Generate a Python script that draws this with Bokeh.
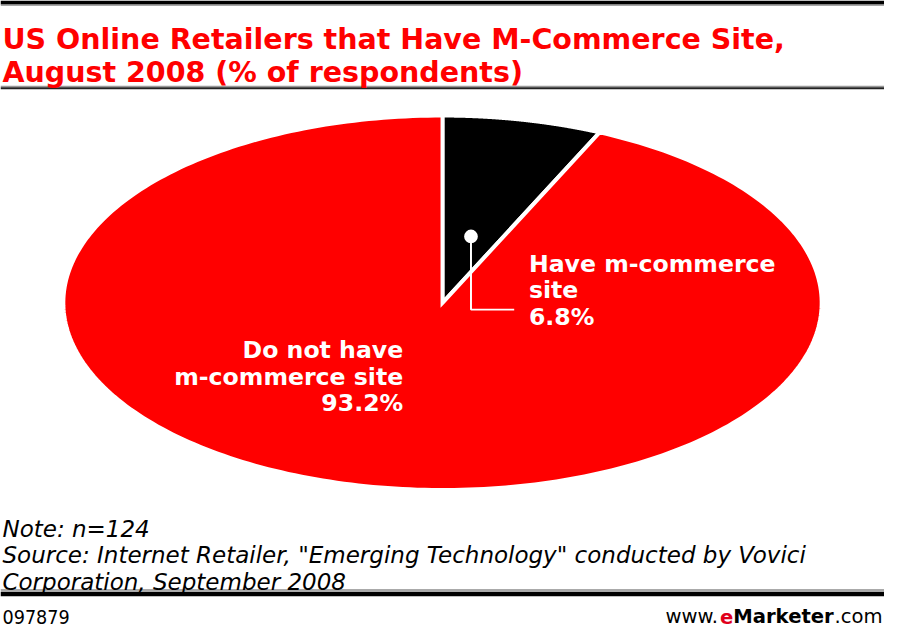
import numpy as np
from bokeh.plotting import figure
from bokeh.models import Range1d
from bokeh.embed import file_html
from bokeh.resources import INLINE
from bokeh.core.properties import value

# ---- data ----
categories = ["Have m-commerce site", "Do not have m-commerce site"]
shares = [6.8, 93.2]
colors = ["#000000", "#FF0000"]
title_lines = ["US Online Retailers that Have M-Commerce Site,",
               "August 2008 (% of respondents)"]
note_lines = ["Note: n=124",
              "Source: Internet Retailer, \"Emerging Technology\" conducted by Vovici",
              "Corporation, September 2008"]
chart_id = "097879"

W, H = 884, 628
S = W / 900.0


def fs(px):
    return f"{px * S:.1f}px"


p = figure(width=W, height=H, x_range=Range1d(0, 900), y_range=Range1d(644, 0),
           output_backend="svg", toolbar_location=None, min_border=0)
p.axis.visible = False
p.grid.visible = False
p.outline_line_color = None
p.background_fill_color = "white"
p.border_fill_color = "white"

# decorative rules
p.quad(left=[0], right=[900], top=[0], bottom=[4], fill_color="black", line_color=None)
p.quad(left=[0], right=[900], top=[4], bottom=[5.5], fill_color="#888888", line_color=None)
p.quad(left=[0], right=[900], top=[87.5], bottom=[89], fill_color="#999999", line_color=None)
p.quad(left=[0], right=[900], top=[89], bottom=[91], fill_color="#222222", line_color=None)
p.quad(left=[0], right=[900], top=[603.5], bottom=[606.5], fill_color="#aaaaaa", line_color=None)
p.quad(left=[0], right=[900], top=[606.5], bottom=[611], fill_color="black", line_color=None)

# title
TF = value("DejaVu Sans")
p.text(x=[2, 2], y=[40, 74], text=title_lines, text_font=TF, text_font_style="bold",
       text_font_size=fs(29), text_color="#FF0000", text_baseline="alphabetic")

# elliptical pie
cx, cy, rx, ry = 450, 310, 386, 192
fr = np.array(shares) / sum(shares)
ends = np.cumsum(fr) * 2 * np.pi
starts = ends - fr * 2 * np.pi
xs, ys = [], []
for s, e in zip(starts, ends):
    t = np.linspace(s, e, 300)
    xs.append([cx] + list(cx + rx * np.sin(t)))
    ys.append([cy] + list(cy - ry * np.cos(t)))
p.patches(xs, ys, fill_color=colors, line_color="white", line_width=4 * S, line_join="miter")

# labels
LF = value("DejaVu Sans")
have_lines = ["Have m-commerce", "site", f"{shares[0]}%"]
not_lines = ["Do not have", "m-commerce site", f"{shares[1]}%"]
p.text(x=[538] * 3, y=[270, 297, 325], text=have_lines, text_font=LF, text_font_style="bold",
       text_font_size=fs(24), text_color="white", text_baseline="alphabetic", text_align="left")
p.text(x=[410] * 3, y=[358, 386, 413], text=not_lines, text_font=LF, text_font_style="bold",
       text_font_size=fs(24), text_color="white", text_baseline="alphabetic", text_align="right")

# callout
p.line(x=[479, 479, 523], y=[242, 317, 317], line_color="white", line_width=2 * S)
p.scatter(x=[479], y=[242], size=14 * S, fill_color="white", line_color=None)

# notes
NF = value("DejaVu Sans")
p.text(x=[2] * 3, y=[542, 569, 596], text=note_lines, text_font=NF, text_font_style="italic",
       text_font_size=fs(23.4), text_color="black", text_baseline="alphabetic")

# footer
FY = 632
p.text(x=[2], y=[FY], text=[chart_id], text_font=value("DejaVu Sans Condensed"), text_font_size=fs(20),
       text_color="black", text_baseline="alphabetic")
p.text(x=[677], y=[FY], text=["www."], text_font=value("DejaVu Sans"), text_font_size=fs(20),
       text_color="black", text_baseline="alphabetic")
p.text(x=[732.5], y=[FY], text=["e"], text_font=value("DejaVu Sans"), text_font_style="bold",
       text_font_size=fs(20), text_color="#E0001B", text_baseline="alphabetic")
p.text(x=[746], y=[FY], text=["Marketer"], text_font=value("DejaVu Sans"), text_font_style="bold",
       text_font_size=fs(20), text_color="black", text_baseline="alphabetic")
p.text(x=[849], y=[FY], text=[".com"], text_font=value("DejaVu Sans"), text_font_size=fs(20),
       text_color="black", text_baseline="alphabetic")

open("out.html", "w").write(file_html(p, INLINE))
